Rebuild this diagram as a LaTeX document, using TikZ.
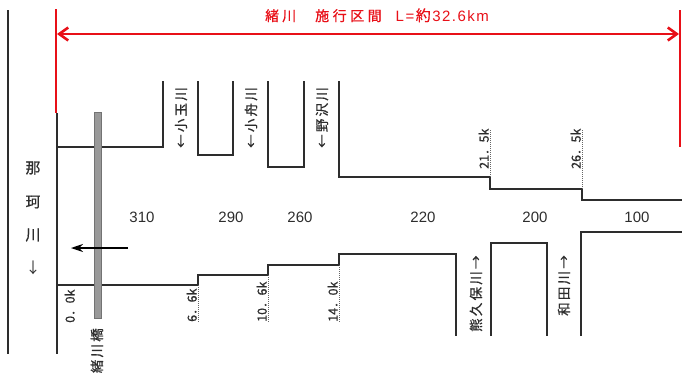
\documentclass[tikz,border=0pt]{standalone}
\usepackage{fontspec}
\setmainfont{Liberation Sans}
\newfontfamily\jp[FakeBold=0.8]{Noto Sans CJK JP}
\newfontfamily\jpt{Noto Sans CJK JP}
\usetikzlibrary{arrows.meta}
\definecolor{rred}{RGB}{232,16,24}
\definecolor{ink}{RGB}{45,45,45}
\newcommand{\kk}{\kern2.2pt}
\newcommand{\kt}{\kern1.5pt}
\begin{document}
\begin{tikzpicture}[x=1pt,y=-1pt,
  bank/.style={draw=ink, line width=1.2pt, line join=miter},
  redline/.style={draw=rred, line width=2.6pt},
  dots/.style={draw=black!60, line width=0.6pt, dash pattern=on 1pt off 1pt},
  trib/.style={font=\jp\fontsize{13.5}{14}\selectfont, text=ink, rotate=90, inner sep=0pt, anchor=west},
  km/.style={font=\jp\fontsize{12.5}{13}\selectfont, text=ink, rotate=90, inner sep=0pt, anchor=south west},
  num/.style={font=\fontsize{15}{16}\selectfont, text=ink, inner sep=0pt},
  naka/.style={font=\jp\fontsize{15}{16}\selectfont, text=ink, inner sep=0pt},
  title/.style={font=\fontsize{15}{16}\selectfont, text=rred, inner sep=0pt, anchor=base west}]
\useasboundingbox (0,0) rectangle (682,372);

% outer left line
\coordinate (o1) at (8,10); \coordinate (o2) at (8,354);
\draw[bank] (o1) -- (o2);

% red section markers
\coordinate (rl1) at (56,9); \coordinate (rl2) at (56,113);
\coordinate (rr1) at (680,10); \coordinate (rr2) at (680,147);
\draw[redline] (rl1) -- (rl2);
\draw[redline] (rr1) -- (rr2);
\coordinate (ra1) at (57,34); \coordinate (ra2) at (679,34);
\draw[redline, {Straight Barb[length=9pt,width=13pt,line width=2.6pt]}-{Straight Barb[length=9pt,width=13pt,line width=2.6pt]}] (ra1) -- (ra2);

% title
\node[title] (ttl) at (265,21) {{\jp\fontsize{14}{15}\selectfont 緒\kern3pt 川\kern19pt 施\kern3.5pt 行\kern3.5pt 区\kern3.5pt 間}\kern14pt L\kt=\kt{\jp 約}\kt3\kt2\kt.\kt6\kt k\kt m};

% main left line (confluence with Naka river)
\coordinate (m1) at (57,113); \coordinate (m2) at (57,354);
\draw[bank] (m1) -- (m2);

% upper bank
\draw[bank] (57,147) -- (163,147) -- (163,81);
\draw[bank] (198,81) -- (198,155) -- (233,155) -- (233,81);
\draw[bank] (268,81) -- (268,167) -- (304,167) -- (304,81);
\draw[bank] (339,81) -- (339,177) -- (490,177) -- (490,189) -- (582,189) -- (582,200) -- (682,200);

% lower bank
\draw[bank] (57,285) -- (198,285) -- (198,275) -- (268,275) -- (268,265) -- (339,265) -- (339,254) -- (456,254) -- (456,336);
\draw[bank] (491,336) -- (491,243) -- (547,243) -- (547,336);
\draw[bank] (581,336) -- (581,232) -- (682,232);

% dotted km marks
\draw[dots] (490,130) -- (490,177);
\draw[dots] (582,130) -- (582,189);
\draw[dots] (198,285) -- (198,322);
\draw[dots] (268,275) -- (268,322);
\draw[dots] (339,265) -- (339,322);

% km labels
\node[km] (k0) at (75,323) {0．0k};
\node[km] (k1) at (197,322) {6．6k};
\node[km] (k2) at (267,322) {10．6k};
\node[km] (k3) at (338,322) {14．0k};
\node[km] (k4) at (489,169) {21．5k};
\node[km] (k5) at (581,169) {26．5k};

% bridge
\node[draw=black!55, fill=black!40, line width=0.6pt, minimum width=7pt, minimum height=206pt, inner sep=0pt] (br) at (97.5,215) {};
\node[trib, anchor=east] (brl) at (97,328) {緒\kk 川\kk 橋};

% flow arrow
\coordinate (fa1) at (128,248); \coordinate (fa2) at (71,248);
\draw[draw=black, line width=1.3pt, -{Stealth[length=12pt,width=8pt]}] (fa1) -- (fa2);

% Naka river label
\node[naka] (n1) at (33,168) {那};
\node[naka] (n2) at (33,202) {珂};
\node[naka] (n3) at (33,235) {川};
\node[naka, font=\jpt\fontsize{15}{16}\selectfont] (n4) at (33,268) {↓};

% tributaries
\node[trib] (t1) at (181,148) {←\kk 小\kk 玉\kk 川};
\node[trib] (t2) at (251,148) {←\kk 小\kk 舟\kk 川};
\node[trib] (t3) at (322,148) {←\kk 野\kk 沢\kk 川};
\node[trib] (t4) at (476,332) {熊\kk 久\kk 保\kk 川\kk →};
\node[trib] (t5) at (564,316) {和\kk 田\kk 川\kk →};

% discharge numbers
\node[num] (q1) at (142,217) {310};
\node[num] (q2) at (231,217) {290};
\node[num] (q3) at (300,217) {260};
\node[num] (q4) at (423,217) {220};
\node[num] (q5) at (535,217) {200};
\node[num] (q6) at (637,217) {100};
\end{tikzpicture}
\end{document}
